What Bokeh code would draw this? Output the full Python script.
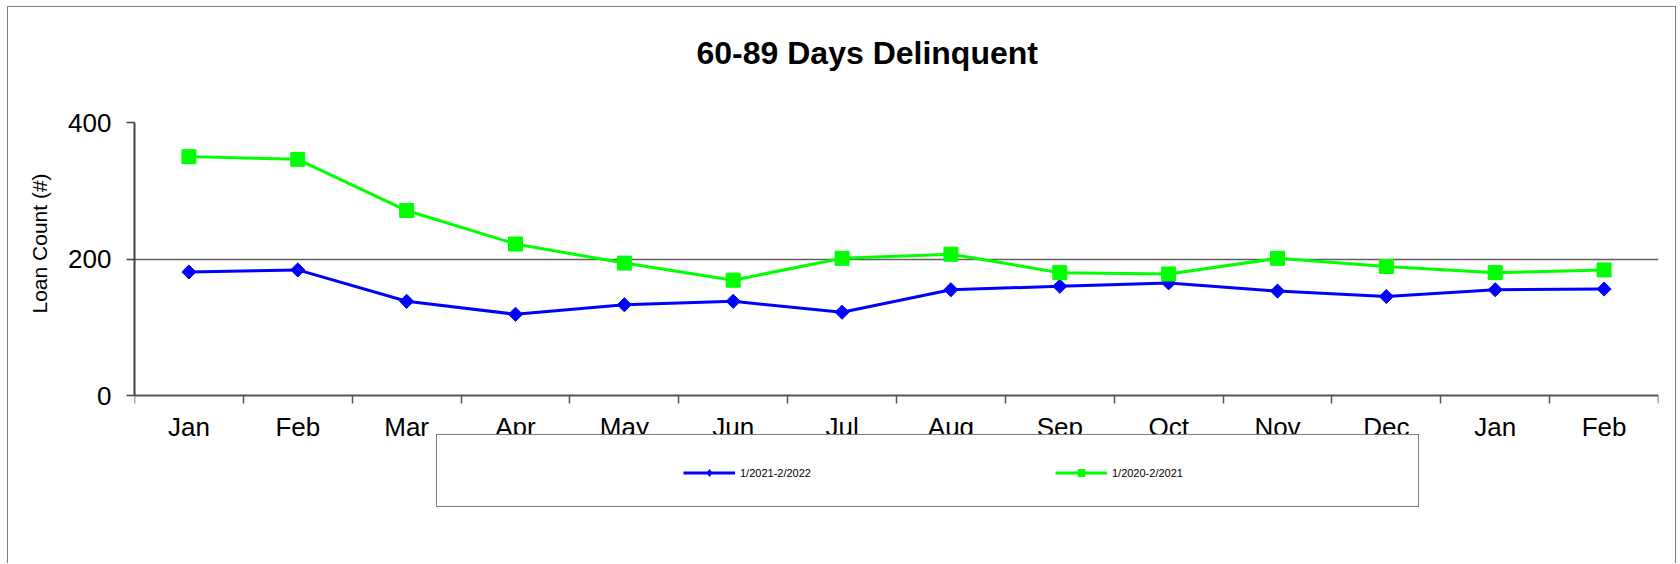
import numpy as np
from bokeh.plotting import figure
from bokeh.models import Range1d, FixedTicker, Legend, LegendItem, Grid, Title
from bokeh.embed import file_html
from bokeh.resources import INLINE

# ---- data ----
months = ["Jan", "Feb", "Mar", "Apr", "May", "Jun", "Jul", "Aug",
          "Sep", "Oct", "Nov", "Dec", "Jan", "Feb"]
series_2021_2022 = [181, 184, 138, 119, 133, 138, 122, 155, 160, 165, 153, 145, 155, 156]
series_2020_2021 = [350, 346, 271, 222, 194, 169, 201, 207, 180, 178, 201, 189, 180, 184]
label_blue = "1/2021-2/2022"
label_green = "1/2020-2/2021"
y_ticks = [0, 200, 400]
title_text = "60-89 Days Delinquent"
y_label = "Loan Count (#)"

FONT = "Liberation Sans"
BLUE = "#0000FF"
GREEN = "#00FF00"

n = len(months)
x = np.arange(n) + 0.5

# layout (pixels): plot area 273px tall, legend area extends 112px below it
PLOT_H = 273
EXTRA = 112
y_min = -y_ticks[-1] * EXTRA / PLOT_H

p = figure(width=1669, height=557,
           x_range=Range1d(0, n), y_range=Range1d(y_min, y_ticks[-1]),
           output_backend="svg", toolbar_location=None,
           min_border_left=126, min_border_right=19,
           min_border_top=115, min_border_bottom=57)
p.styles = {"border-left": "1px solid #808080", "border-top": "1px solid #808080",
            "border-right": "1px solid #808080",
            "margin-left": "7px", "margin-top": "6px"}
p.background_fill_color = "white"
p.border_fill_color = "white"
p.outline_line_color = None

# spacer between title and plot area, then the title
p.add_layout(Title(text=" ", text_font_size="1px", standoff=44), "above")
p.title.text = title_text
p.title.text_font = FONT
p.title.text_font_size = "32px"
p.title.text_font_style = "bold"
p.title.text_color = "black"
p.title.align = "left"
p.title.offset = 562
p.title.standoff = 10

# y-axis title as a left-side title
p.add_layout(Title(text=y_label, align="left", offset=194, standoff=30,
                   text_font=FONT, text_font_size="21px",
                   text_font_style="normal", text_color="black"), "left")

# x axis at y = 0: labels centred in categories, ticks on boundaries
p.xaxis.fixed_location = y_ticks[0]
p.xaxis.ticker = FixedTicker(ticks=list(x), minor_ticks=list(range(n + 1)))
p.xaxis.major_label_overrides = {float(v): m for v, m in zip(x, months)}
p.xaxis.major_tick_out = 0
p.xaxis.major_tick_in = 0
p.xaxis.minor_tick_out = 8
p.xaxis.minor_tick_in = 0
p.xaxis.minor_tick_line_color = "#555555"
p.xaxis.minor_tick_line_width = 1.5
p.xaxis.axis_line_color = "#555555"
p.xaxis.axis_line_width = 2
p.xaxis.major_label_text_font = FONT
p.xaxis.major_label_text_font_size = "26px"
p.xaxis.major_label_text_color = "black"
p.xaxis.major_label_standoff = 8

# y axis
p.yaxis.bounds = (y_ticks[0], y_ticks[-1])
p.yaxis.ticker = FixedTicker(ticks=y_ticks)
p.yaxis.minor_tick_line_color = None
p.yaxis.major_tick_out = 8
p.yaxis.major_tick_in = 0
p.yaxis.major_tick_line_color = "#404040"
p.yaxis.major_tick_line_width = 1.5
p.yaxis.axis_line_color = "#404040"
p.yaxis.axis_line_width = 2
p.yaxis.major_label_text_font = FONT
p.yaxis.major_label_text_font_size = "26px"
p.yaxis.major_label_text_color = "black"
p.yaxis.major_label_standoff = 15

# grid
p.xgrid.grid_line_color = None
p.ygrid.ticker = FixedTicker(ticks=[y_ticks[1]])
p.ygrid.grid_line_color = "#606060"
p.ygrid.grid_line_width = 1.5
# plot-area border (top and right)
p.add_layout(Grid(dimension=1, ticker=FixedTicker(ticks=[y_ticks[-1]]),
                  grid_line_color="#808080", grid_line_width=4))
p.add_layout(Grid(dimension=0, ticker=FixedTicker(ticks=[n]),
                  bounds=(y_ticks[0], y_ticks[-1]),
                  grid_line_color="#808080", grid_line_width=4))

# series
ghost = p.line(x, series_2021_2022, line_alpha=0)
bl = p.line(x, series_2021_2022, line_color=BLUE, line_width=3)
bm = p.scatter(x, series_2021_2022, marker="square", angle=np.pi / 4, size=10,
               fill_color=BLUE, line_color=BLUE)
bleg = p.scatter(x, series_2021_2022, marker="diamond", size=0,
                 fill_color=BLUE, line_color=BLUE)
gl = p.line(x, series_2020_2021, line_color=GREEN, line_width=3)
gm = p.scatter(x, series_2020_2021, marker="square", size=14,
               fill_color=GREEN, line_color=GREEN)

# legend box (drawn first)
box = Legend(items=[LegendItem(label=" ", renderers=[ghost])],
             location=(302, 0), padding=0, margin=0, spacing=0,
             glyph_width=981, glyph_height=71, label_standoff=0,
             label_width=0, label_height=0, label_text_font_size="1px",
             border_line_color="black", border_line_width=1,
             background_fill_color="white", background_fill_alpha=1)
p.add_layout(box, "center")

items = Legend(items=[LegendItem(label=label_blue, renderers=[bl, bleg]),
                      LegendItem(label=label_green, renderers=[gl, gm])],
               orientation="horizontal", location=(549, 26),
               padding=0, margin=0, spacing=244,
               glyph_width=52, glyph_height=17, label_standoff=5,
               label_width=70, label_text_font=FONT, label_text_font_size="11px",
               label_text_color="black",
               border_line_color=None, background_fill_alpha=0)
p.add_layout(items, "center")

open("out.html", "w").write(file_html(p, INLINE))
